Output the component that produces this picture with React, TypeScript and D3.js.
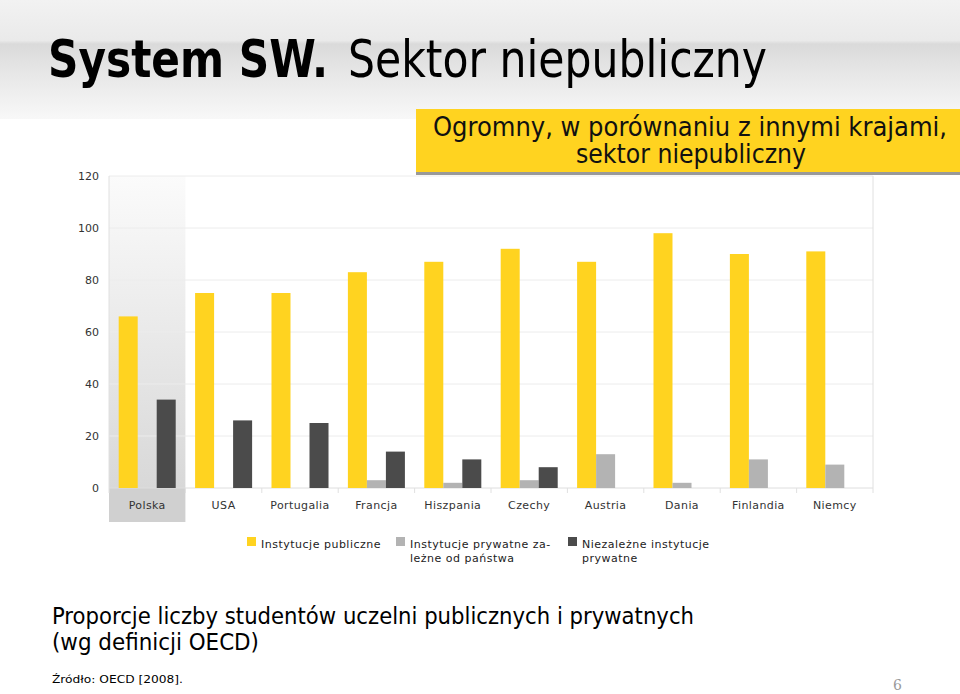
import React from "react";
import * as d3 from "d3";

const categories = ["Polska", "USA", "Portugalia", "Francja", "Hiszpania", "Czechy", "Austria", "Dania", "Finlandia", "Niemcy"];
const publicInst = [66, 75, 75, 83, 87, 92, 87, 98, 90, 91];
const govDependent = [0, 0, 0, 3, 2, 3, 13, 2, 11, 9];
const independent = [34, 26, 25, 14, 11, 8, 0, 0, 0, 0];
const yTicks = [0, 20, 40, 60, 80, 100, 120];
const seriesKeys = ["pub", "dep", "ind"];
const seriesColors = ["#FFD320", "#B3B3B3", "#4B4B4B"];
const legendLines = [
  ["Instytucje publiczne"],
  ["Instytucje prywatne za-", "leżne od państwa"],
  ["Niezależne instytucje", "prywatne"],
];

const W = 960, H = 694;
const left = 109, right = 873, top = 176, bottom = 488;

export default function App() {
  const x = d3.scaleBand<string>().domain(categories).range([left, right]).paddingInner(0).paddingOuter(0);
  const xs = d3.scaleBand<string>().domain(seriesKeys).range([0, x.bandwidth()]).paddingInner(0).paddingOuter(0.51);
  const y = d3.scaleLinear().domain([0, 120]).range([bottom, top]);
  const series = [publicInst, govDependent, independent];
  const font = "'DejaVu Sans', Verdana, sans-serif";
  const cond = "'DejaVu Sans Condensed', 'DejaVu Sans', sans-serif";
  const legendX = [247, 396, 568];

  return (
    <svg width={W} height={H} style={{ position: "absolute", left: 0, top: 0, background: "#fff" }}>
      <defs>
        <linearGradient id="titleBg" x1="0" y1="0" x2="0" y2="1">
          <stop offset="0" stopColor="#f2f2f2" />
          <stop offset="0.34" stopColor="#eaeaea" />
          <stop offset="0.37" stopColor="#dadada" />
          <stop offset="0.6" stopColor="#e6e6e6" />
          <stop offset="1" stopColor="#f8f8f8" />
        </linearGradient>
        <linearGradient id="hl" x1="0" y1="0" x2="0" y2="1">
          <stop offset="0" stopColor="#fbfbfb" />
          <stop offset="1" stopColor="#d8d8d8" />
        </linearGradient>
      </defs>
      <rect x={0} y={0} width={W} height={119} fill="url(#titleBg)" />
      <text x={48} y={77} fontFamily={cond} fontStretch="condensed" fontWeight="bold" fontSize={52} textLength={280} lengthAdjust="spacingAndGlyphs" fill="#000">System SW.</text>
      <text x={348} y={77} fontFamily={cond} fontStretch="condensed" fontSize={52} textLength={419} lengthAdjust="spacingAndGlyphs" fill="#000">Sektor niepubliczny</text>

      {/* highlight for Polska */}
      <rect x={x("Polska")!} y={top} width={x.bandwidth()} height={bottom - top} fill="url(#hl)" />
      <rect x={x("Polska")!} y={bottom} width={x.bandwidth()} height={34} fill="#d0d0d0" />

      {/* gridlines */}
      {yTicks.map((t) => (
        <line key={t} x1={left} x2={right} y1={y(t)} y2={y(t)} stroke={t === 0 ? "#dedede" : "#ececec"} strokeWidth={1} />
      ))}
      <line x1={left} x2={left} y1={top} y2={bottom} stroke="#e0e0e0" />
      <line x1={right} x2={right} y1={top} y2={bottom} stroke="#e0e0e0" />
      {d3.range(categories.length + 1).map((i) => {
        const xx = left + i * x.step();
        return <line key={i} x1={xx} x2={xx} y1={bottom} y2={bottom + 5} stroke="#e0e0e0" />;
      })}

      {/* y tick labels */}
      {yTicks.map((t) => (
        <text key={t} x={99} y={y(t) + 4} textAnchor="end" fontFamily={font} fontSize={11} fill="#333">{t}</text>
      ))}

      {/* bars */}
      {categories.map((c, i) => (
        <g key={c}>
          {series.map((s, j) =>
            s[i] > 0 ? (
              <rect key={j} x={x(c)! + xs(seriesKeys[j])!} y={y(s[i])} width={xs.bandwidth()} height={y(0) - y(s[i])} fill={seriesColors[j]} />
            ) : null
          )}
          <text x={x(c)! + x.bandwidth() / 2} y={509} textAnchor="middle" fontFamily={font} fontSize={11} letterSpacing={0.4} fill="#333">{c}</text>
        </g>
      ))}

      {/* legend */}
      {legendLines.map((lines, i) => (
        <g key={i}>
          <rect x={legendX[i]} y={537} width={9} height={9} fill={seriesColors[i]} />
          {lines.map((l, k) => (
            <text key={k} x={legendX[i] + 14} y={548 + k * 14} fontFamily={font} fontSize={11} letterSpacing={0.5} fill="#222">{l}</text>
          ))}
        </g>
      ))}

      {/* callout */}
      <rect x={416} y={112} width={544} height={63} fill="#999" />
      <rect x={416} y={109} width={544} height={63} fill="#FFD320" />
      <text x={690} y={136} textAnchor="middle" fontFamily={cond} fontStretch="condensed" fontSize={26} textLength={514} lengthAdjust="spacingAndGlyphs" fill="#111">Ogromny, w porównaniu z innymi krajami,</text>
      <text x={691} y={163} textAnchor="middle" fontFamily={cond} fontStretch="condensed" fontSize={26} textLength={230} lengthAdjust="spacingAndGlyphs" fill="#111">sektor niepubliczny</text>

      {/* bottom text */}
      <text x={52} y={624} fontFamily={cond} fontStretch="condensed" fontSize={23} textLength={642} lengthAdjust="spacingAndGlyphs" fill="#000">Proporcje liczby studentów uczelni publicznych i prywatnych</text>
      <text x={52} y={650} fontFamily={cond} fontStretch="condensed" fontSize={23} textLength={207} lengthAdjust="spacingAndGlyphs" fill="#000">(wg definicji OECD)</text>
      <text x={52} y={683} fontFamily={cond} fontStretch="condensed" fontSize={11} textLength={131} lengthAdjust="spacingAndGlyphs" fill="#000">Źródło: OECD [2008].</text>
      <text x={893} y={690} fontFamily="'DejaVu Serif', serif" fontSize={14} fill="#9a9a9a">6</text>
    </svg>
  );
}
